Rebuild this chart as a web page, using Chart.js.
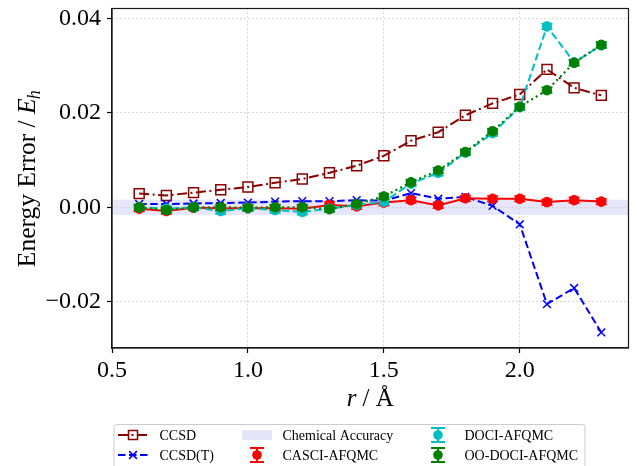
<!DOCTYPE html>
<html>
<head>
<meta charset="utf-8">
<script src="https://cdn.jsdelivr.net/npm/chart.js@4.4.0/dist/chart.umd.min.js"></script>
<style>
  html, body { margin: 0; padding: 0; background: #fff; }
  #wrap { position: relative; width: 637px; height: 466px; }
</style>
</head>
<body>
<div id="wrap"><canvas id="c" width="637" height="466"></canvas></div>
<script>
// ---- data ----
const r = [0.6, 0.7, 0.8, 0.9, 1.0, 1.1, 1.2, 1.3, 1.4, 1.5, 1.6, 1.7, 1.8, 1.9, 2.0, 2.1, 2.2, 2.3];
const ccsd = [0.0029, 0.0025, 0.0031, 0.0037, 0.0043, 0.0052, 0.0060, 0.0073, 0.0088, 0.0109, 0.0141, 0.0159, 0.0195, 0.0220, 0.0239, 0.0292, 0.0253, 0.0237];
const ccsdT = [0.0007, 0.0007, 0.0008, 0.0009, 0.0010, 0.0012, 0.0013, 0.0013, 0.0015, 0.0014, 0.0030, 0.0018, 0.0022, 0.0003, -0.0036, -0.0205, -0.0171, -0.0265];
const casci = [-0.0003, -0.0008, -0.0001, -0.0002, -0.0002, -0.0002, -0.0003, 0.0005, 0.0002, 0.0010, 0.0015, 0.0004, 0.0019, 0.0018, 0.0018, 0.0011, 0.0015, 0.0012];
const casciErr = [0.0006, 0.0006, 0.0006, 0.0006, 0.0006, 0.0006, 0.0006, 0.0006, 0.0006, 0.0006, 0.0006, 0.0006, 0.0006, 0.0006, 0.0006, 0.0006, 0.0006, 0.0006];
const doci = [0.0000, -0.0003, 0.0000, -0.0008, -0.0002, -0.0006, -0.0010, -0.0003, 0.0005, 0.0012, 0.0050, 0.0073, 0.0116, 0.0157, 0.0212, 0.0383, 0.0307, 0.0343];
const dociErr = [0.0006, 0.0006, 0.0006, 0.0006, 0.0006, 0.0006, 0.0006, 0.0006, 0.0006, 0.0006, 0.0006, 0.0006, 0.0006, 0.0006, 0.0006, 0.0006, 0.0006, 0.0006];
const oodoci = [0.0000, -0.0006, 0.0000, 0.0000, -0.0001, 0.0000, 0.0000, -0.0004, 0.0007, 0.0023, 0.0053, 0.0078, 0.0117, 0.0161, 0.0213, 0.0248, 0.0306, 0.0344];
const oodociErr = [0.0006, 0.0006, 0.0006, 0.0006, 0.0006, 0.0006, 0.0006, 0.0006, 0.0006, 0.0006, 0.0006, 0.0006, 0.0006, 0.0006, 0.0006, 0.0006, 0.0006, 0.0006];
const chemAcc = 0.0016;
const xTicks = [0.5, 1.0, 1.5, 2.0];
const yTicks = [-0.02, 0.00, 0.02, 0.04];
const labels = ['CCSD', 'CCSD(T)', 'Chemical Accuracy', 'CASCI-AFQMC', 'DOCI-AFQMC', 'OO-DOCI-AFQMC'];

const FONT = '"Liberation Serif", "Times New Roman", serif';
const pts = (ys) => r.map((x, i) => ({x: x, y: ys[i]}));

const COL = {ccsd: '#8b0000', ccsdT: '#0000ff', casci: '#ff0000', doci: '#00bfbf', oodoci: '#008000', band: '#e6e6fa'};

const datasets = [
  {label: labels[0], data: pts(ccsd), borderColor: COL.ccsd, borderWidth: 2, borderDash: [10, 3.5, 2, 3.5],
   pointStyle: 'rect', pointRadius: 7, pointBorderWidth: 1.5, pointBorderColor: COL.ccsd, pointBackgroundColor: 'rgba(0,0,0,0)', order: 5},
  {label: labels[1], data: pts(ccsdT), borderColor: COL.ccsdT, borderWidth: 2, borderDash: [7.5, 3.5],
   pointStyle: 'crossRot', pointRadius: 5.5, pointBorderWidth: 1.5, pointBorderColor: COL.ccsdT, pointBackgroundColor: COL.ccsdT, order: 4},
  {label: labels[3], data: pts(casci), err: casciErr, borderColor: COL.casci, borderWidth: 2, borderDash: [],
   pointStyle: 'circle', pointRadius: 4.8, pointBorderWidth: 1, pointBorderColor: COL.casci, pointBackgroundColor: COL.casci, order: 3},
  {label: labels[4], data: pts(doci), err: dociErr, borderColor: COL.doci, borderWidth: 2, borderDash: [7.5, 3.5],
   pointStyle: 'circle', pointRadius: 4.8, pointBorderWidth: 1, pointBorderColor: COL.doci, pointBackgroundColor: COL.doci, order: 2},
  {label: labels[5], data: pts(oodoci), err: oodociErr, borderColor: COL.oodoci, borderWidth: 2.2, borderDash: [2, 3.3],
   pointStyle: 'circle', pointRadius: 4.8, pointBorderWidth: 1, pointBorderColor: COL.oodoci, pointBackgroundColor: COL.oodoci, order: 1}
];

const bandPlugin = {
  id: 'band',
  beforeDraw(chart) {
    const {ctx, chartArea: a, scales: {y}} = chart;
    const y1 = y.getPixelForValue(chemAcc), y2 = y.getPixelForValue(-chemAcc);
    ctx.save();
    ctx.fillStyle = COL.band;
    ctx.fillRect(a.left, y1, a.right - a.left, y2 - y1);
    ctx.restore();
  }
};

const errPlugin = {
  id: 'errbars',
  afterDatasetDraw(chart, args) {
    const ds = chart.data.datasets[args.index];
    if (!ds.err) return;
    const {ctx, scales: {x, y}} = chart;
    ctx.save();
    ctx.strokeStyle = ds.borderColor;
    ctx.lineWidth = 1.5;
    ctx.setLineDash([]);
    ds.data.forEach((p, i) => {
      const px = x.getPixelForValue(p.x);
      const yt = y.getPixelForValue(p.y + ds.err[i]);
      const yb = y.getPixelForValue(p.y - ds.err[i]);
      ctx.beginPath();
      ctx.moveTo(px, yt); ctx.lineTo(px, yb);
      ctx.moveTo(px - 5.5, yt); ctx.lineTo(px + 5.5, yt);
      ctx.moveTo(px - 5.5, yb); ctx.lineTo(px + 5.5, yb);
      ctx.stroke();
    });
    ctx.restore();
  }
};

function drawMarker(ctx, style, x, y, color) {
  ctx.save();
  ctx.setLineDash([]);
  ctx.strokeStyle = color; ctx.fillStyle = color; ctx.lineWidth = 1.5;
  if (style === 'rect') {
    ctx.strokeRect(x - 4.5, y - 4.5, 9, 9);
  } else if (style === 'crossRot') {
    ctx.beginPath();
    ctx.moveTo(x - 3.9, y - 3.9); ctx.lineTo(x + 3.9, y + 3.9);
    ctx.moveTo(x - 3.9, y + 3.9); ctx.lineTo(x + 3.9, y - 3.9);
    ctx.stroke();
  } else if (style === 'errbar') {
    ctx.beginPath();
    ctx.moveTo(x, y - 7); ctx.lineTo(x, y + 7);
    ctx.moveTo(x - 7, y - 7); ctx.lineTo(x + 7, y - 7);
    ctx.moveTo(x - 7, y + 7); ctx.lineTo(x + 7, y + 7);
    ctx.lineWidth = 2;
    ctx.stroke();
    ctx.beginPath(); ctx.arc(x, y, 4.8, 0, Math.PI * 2); ctx.fill();
  }
  ctx.restore();
}

const decorPlugin = {
  id: 'decor',
  afterDraw(chart) {
    const {ctx, chartArea: a} = chart;
    ctx.save();
    // frame (all four spines)
    ctx.strokeStyle = '#1a1a1a';
    ctx.lineWidth = 1.2;
    ctx.setLineDash([]);
    ctx.strokeRect(a.left, a.top, a.right - a.left, a.bottom - a.top);

    // y axis title: Energy Error / E_h
    ctx.fillStyle = '#000';
    ctx.textBaseline = 'alphabetic';
    ctx.save();
    ctx.translate(35, (a.top + a.bottom) / 2);
    ctx.rotate(-Math.PI / 2);
    const p1 = 'Energy Error / ';
    ctx.font = '25.5px ' + FONT;
    const w1 = ctx.measureText(p1).width;
    ctx.font = 'italic 25.5px ' + FONT;
    const w2 = ctx.measureText('E').width;
    ctx.font = 'italic 18px ' + FONT;
    const w3 = ctx.measureText('h').width;
    let sx = -(w1 + w2 + w3) / 2;
    ctx.font = '25.5px ' + FONT; ctx.textAlign = 'left';
    ctx.fillText(p1, sx, 0);
    ctx.font = 'italic 25.5px ' + FONT;
    ctx.fillText('E', sx + w1, 0);
    ctx.font = 'italic 18px ' + FONT;
    ctx.fillText('h', sx + w1 + w2 - 1, 5);
    ctx.restore();

    // x axis title: r / Å
    ctx.font = 'italic 25px ' + FONT;
    const wr = ctx.measureText('r').width;
    ctx.font = '25px ' + FONT;
    const wa = ctx.measureText(' / Å').width;
    let cx = (a.left + a.right) / 2 - (wr + wa) / 2;
    ctx.textAlign = 'left';
    ctx.font = 'italic 25px ' + FONT;
    ctx.fillText('r', cx, 406);
    ctx.font = '25px ' + FONT;
    ctx.fillText(' / Å', cx + wr, 406);

    // legend
    const bx = 114, by = 424.5, bw = 471, bh = 50;
    ctx.beginPath();
    ctx.roundRect(bx, by, bw, bh, 3);
    ctx.fillStyle = 'rgba(255,255,255,0.85)';
    ctx.fill();
    ctx.strokeStyle = '#cccccc';
    ctx.lineWidth = 1;
    ctx.stroke();

    const rows = [435, 455];
    ctx.font = '14px ' + FONT;
    ctx.fillStyle = '#000';
    ctx.textBaseline = 'middle';
    ctx.textAlign = 'left';
    // col 1: CCSD, CCSD(T)
    const l1 = [[COL.ccsd, [10, 3.5, 2, 3.5], 'rect', labels[0]], [COL.ccsdT, [7.5, 3.5], 'crossRot', labels[1]]];
    l1.forEach((it, k) => {
      const yy = rows[k];
      ctx.save();
      ctx.strokeStyle = it[0]; ctx.lineWidth = 2; ctx.setLineDash(it[1]);
      ctx.beginPath(); ctx.moveTo(118, yy); ctx.lineTo(148, yy); ctx.stroke();
      ctx.restore();
      drawMarker(ctx, it[2], 133, yy, it[0]);
      ctx.fillStyle = '#000';
      ctx.fillText(it[3], 159.5, yy + 1);
    });
    // col 2: Chemical Accuracy, CASCI-AFQMC
    ctx.fillStyle = COL.band;
    ctx.fillRect(242, rows[0] - 5, 30, 10);
    ctx.fillStyle = '#000';
    ctx.fillText(labels[2], 282.5, rows[0] + 1);
    drawMarker(ctx, 'errbar', 257, rows[1], COL.casci);
    ctx.fillStyle = '#000';
    ctx.fillText(labels[3], 282.5, rows[1] + 1);
    // col 3
    drawMarker(ctx, 'errbar', 438, rows[0], COL.doci);
    drawMarker(ctx, 'errbar', 438, rows[1], COL.oodoci);
    ctx.fillStyle = '#000';
    ctx.fillText(labels[4], 464.5, rows[0] + 1);
    ctx.fillText(labels[5], 464.5, rows[1] + 1);
    ctx.restore();
  }
};

new Chart(document.getElementById('c'), {
  type: 'line',
  data: {datasets},
  plugins: [bandPlugin, errPlugin, decorPlugin],
  options: {
    responsive: false,
    animation: false,
    devicePixelRatio: 1,
    layout: {padding: {left: 0, right: 4, top: 7, bottom: 88}},
    plugins: {legend: {display: false}, tooltip: {enabled: false}},
    elements: {line: {tension: 0, fill: false}},
    scales: {
      x: {
        type: 'linear', min: 0.5, max: 2.4,
        afterBuildTicks: (s) => { s.ticks = xTicks.map(v => ({value: v})); },
        ticks: {callback: (v) => Number(v).toFixed(1), color: '#000', font: {family: FONT, size: 24}, padding: 3, maxRotation: 0, autoSkip: false},
        grid: {color: '#cfcfcf', lineWidth: 1, tickColor: '#000', tickLength: 5, tickWidth: 1.2},
        border: {display: true, color: '#1a1a1a', width: 1.2, dash: [1.5, 2.5]},
        afterFit: (s) => { s.height = 30; s.paddingLeft = 0; s.paddingRight = 0; }
      },
      y: {
        type: 'linear', min: -0.0298, max: 0.0421,
        afterBuildTicks: (s) => { s.ticks = yTicks.map(v => ({value: v})); },
        ticks: {callback: (v) => { const n = Math.abs(v) < 1e-9 ? 0 : v; return n.toFixed(2).replace('-', '\u2212'); },
                color: '#000', font: {family: FONT, size: 24}, padding: 6, autoSkip: false},
        grid: {color: '#cfcfcf', lineWidth: 1, tickColor: '#000', tickLength: 5, tickWidth: 1.2},
        border: {display: true, color: '#1a1a1a', width: 1.2, dash: [1.5, 2.5]},
        afterFit: (s) => { s.width = 112; s.paddingTop = 0; s.paddingBottom = 0; }
      }
    }
  }
});
</script>
</body>
</html>
